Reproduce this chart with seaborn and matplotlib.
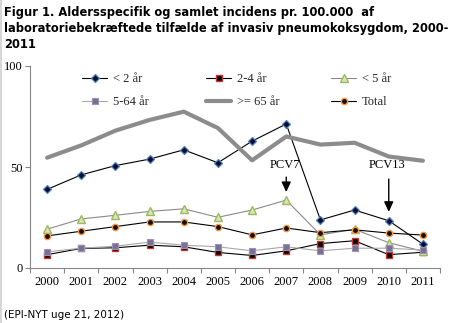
import matplotlib
matplotlib.use("Agg")
import matplotlib.pyplot as plt
from matplotlib.lines import Line2D
import seaborn as sns
import pandas as pd

# ---- data ----
years = [2000, 2001, 2002, 2003, 2004, 2005, 2006, 2007, 2008, 2009, 2010, 2011]
under2 = [38.9, 46.1, 50.7, 53.9, 58.5, 52.1, 62.8, 71.3, 23.8, 28.7, 23.4, 11.8]
age2_4 = [6.6, 9.7, 10.0, 11.3, 10.5, 7.7, 6.2, 8.5, 12.1, 13.5, 6.6, 7.8]
under5 = [19.2, 24.3, 26.1, 28.0, 29.3, 25.1, 28.7, 33.6, 16.4, 19.2, 12.5, 8.3]
age5_64 = [8.0, 9.8, 10.8, 12.8, 11.3, 10.5, 8.5, 10.5, 8.5, 9.8, 9.8, 8.9]
over65 = [54.6, 60.7, 68.0, 73.3, 77.4, 69.3, 53.3, 65.1, 61.1, 62.0, 55.2, 53.1]
total = [15.9, 18.2, 20.5, 22.8, 22.8, 20.5, 16.4, 19.8, 17.5, 18.9, 17.3, 16.3]
series_labels = ["< 2 år", "2-4 år", "< 5 år", "5-64 år", ">= 65 år", "Total"]
yticks = [0, 50, 100]
title = ("Figur 1. Aldersspecifik og samlet incidens pr. 100.000  af\n"
         "laboratoriebekræftede tilfælde af invasiv pneumokoksygdom, 2000-\n"
         "2011")
source = "(EPI-NYT uge 21, 2012)"
vaccines = ["PCV7", "PCV13"]
vaccine_years = [2007, 2010]
vaccine_arrow_top = [45, 44]
vaccine_arrow_tip = [37.6, 27.8]
vaccine_text_y = [51, 51]

sns.set_style("white")
plt.rcParams["font.family"] = ["DejaVu Sans"]

W, H = 449, 323
fig = plt.figure(figsize=(W / 100, H / 100), dpi=100)
ax = fig.add_axes([30 / W, 1 - 268 / H, 410 / W, 202 / H])

df = pd.DataFrame({"year": years, "u2": under2, "a24": age2_4, "u5": under5,
                   "a564": age5_64, "o65": over65, "tot": total})

styles = [
    ("u2", dict(color="black", lw=0.8, marker="D", markersize=4.5,
                markerfacecolor="#0b0b30", markeredgecolor="#4f81bd", markeredgewidth=0.9)),
    ("a24", dict(color="black", lw=0.8, marker="s", markersize=4.5,
                 markerfacecolor="#050505", markeredgecolor="#c0392b", markeredgewidth=1.0)),
    ("u5", dict(color="#8a8a8a", lw=0.8, marker="^", markersize=5.5,
                markerfacecolor="#d7e4bd", markeredgecolor="#9bbb59", markeredgewidth=1.0)),
    ("a564", dict(color="#a8a8a8", lw=0.8, marker="s", markersize=4.5,
                  markerfacecolor="#7a6f94", markeredgecolor="#9a92b0", markeredgewidth=0.8)),
    ("o65", dict(color="#8c8c8c", lw=3.0, marker=None)),
    ("tot", dict(color="black", lw=0.8, marker="o", markersize=4.5,
                 markerfacecolor="#111111", markeredgecolor="#f79646", markeredgewidth=1.0)),
]
for (col, kw), lab in zip(styles, series_labels):
    sns.lineplot(data=df, x="year", y=col, ax=ax, label=lab, **kw)

if ax.get_legend() is not None:
    ax.get_legend().remove()

ax.set_xlim(years[0] - 0.5, years[-1] + 0.5)
ax.set_ylim(0, 100)
ax.set_xlabel("")
ax.set_ylabel("")
ax.set_yticks(yticks)
ax.set_xticks(years)
ax.set_xticklabels([str(y) for y in years])
ax.set_xticks([y + 0.5 for y in [years[0] - 1] + years], minor=True)
for s in ["top", "right"]:
    ax.spines[s].set_visible(False)
for s in ["left", "bottom"]:
    ax.spines[s].set_color("#868686")
    ax.spines[s].set_linewidth(0.8)
ax.tick_params(axis="y", which="major", direction="out", length=3.5, width=0.8,
               color="#868686", pad=2, left=True)
ax.tick_params(axis="x", which="major", length=0, pad=6, bottom=True)
ax.tick_params(axis="x", which="minor", direction="out", length=3.5, width=0.8,
               color="#868686", bottom=True)
for lbl in ax.get_xticklabels() + ax.get_yticklabels():
    lbl.set_family(["Liberation Serif"])
    lbl.set_fontsize(9)
    lbl.set_color("black")

# legends: three columns of two rows
handles, labels = ax.get_legend_handles_labels()
col_x = [82, 206, 331]
legs = []
for i, cx in enumerate(col_x):
    hs = [handles[i], handles[i + 3]]
    ls = [labels[i], labels[i + 3]]
    leg = ax.legend(hs, ls, loc="upper left", bbox_to_anchor=(cx / W, 1 - 73.5 / H),
                    bbox_transform=fig.transFigure, frameon=False, borderpad=0,
                    borderaxespad=0, handlelength=2.0, handletextpad=0.5,
                    labelspacing=0.85, prop={"family": "Liberation Serif", "size": 9})
    legs.append(leg)
for leg in legs[:-1]:
    ax.add_artist(leg)

# vaccine annotations
for name, vx, ya, yb, ty in zip(vaccines, vaccine_years, vaccine_arrow_top,
                                vaccine_arrow_tip, vaccine_text_y):
    ax.text(vx - 0.05, ty, name, ha="center", va="center", fontsize=9,
            family="Liberation Serif", color="black")
    ax.annotate("", xy=(vx, yb), xytext=(vx, ya),
                arrowprops=dict(arrowstyle="-|>,head_length=0.6,head_width=0.28",
                                color="black", lw=1.0, shrinkA=0, shrinkB=0,
                                mutation_scale=10))

fig.text(4 / W, 1 - 6 / H, title, ha="left", va="top", fontsize=8.3,
         fontweight="bold", linespacing=1.28, color="black")
fig.text(4 / W, 1 - 314.5 / H, source, ha="left", va="center", fontsize=7.5,
         color="black")

fig.add_artist(Line2D([0.7 / W, 0.7 / W], [0, 1], color="#d0d0d0", lw=1.2,
                      transform=fig.transFigure))

fig.savefig("out.png", dpi=100, facecolor="white")
